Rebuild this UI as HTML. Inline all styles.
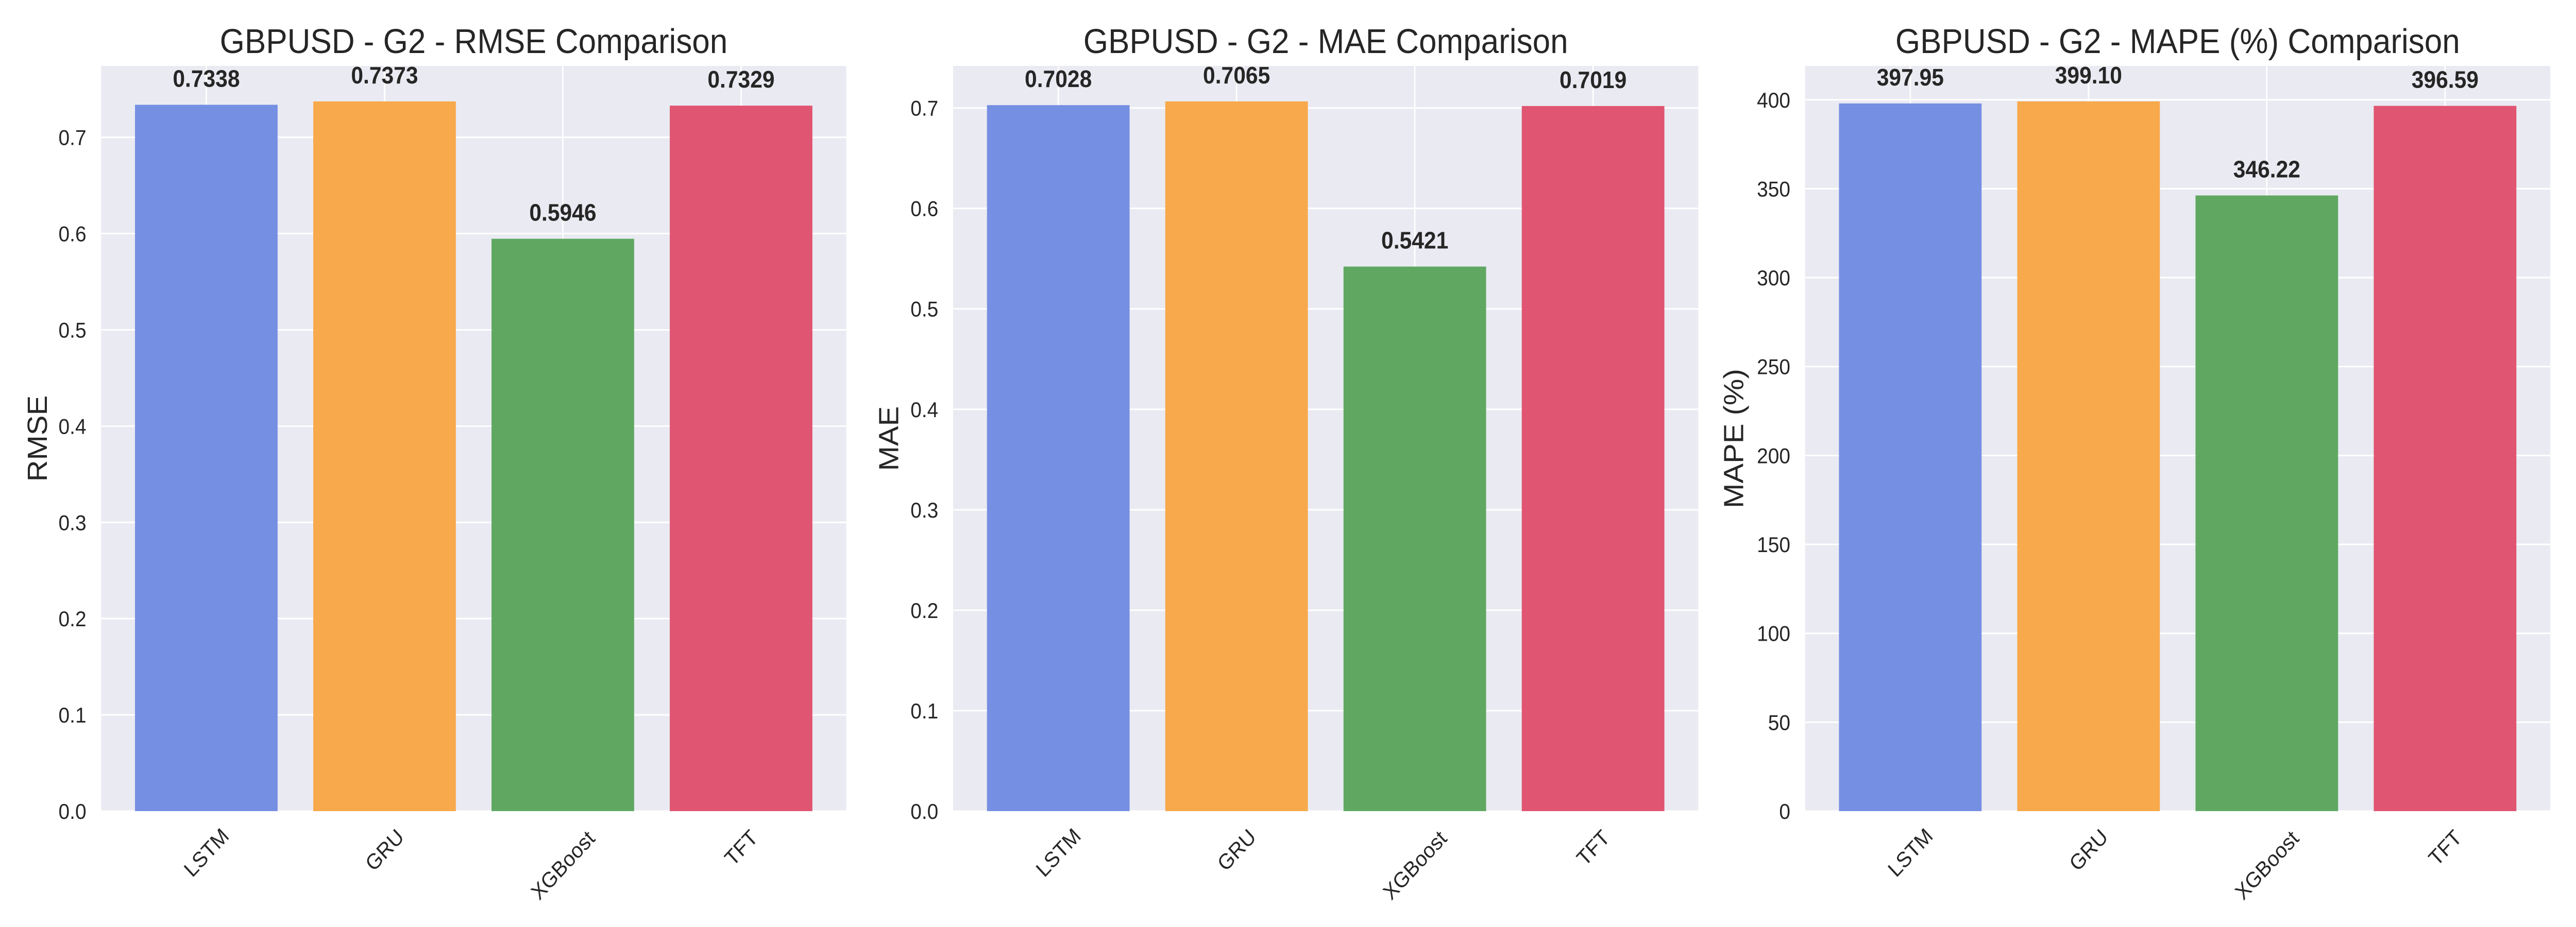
<!DOCTYPE html>
<html><head><meta charset="utf-8"><meta name="viewport" content="width=5400, initial-scale=1"><style>
html,body{margin:0;padding:0;background:#fff;overflow:hidden;width:100%;height:100%;}
svg{display:block;font-family:"Liberation Sans",Arial,sans-serif;width:100vw;height:100vh;}
</style></head><body>
<svg id="chart" xmlns="http://www.w3.org/2000/svg" viewBox="0 0 5400 1800" preserveAspectRatio="none"></svg>
<script>
const categories = ["LSTM", "GRU", "XGBoost", "TFT"];
const rmseValues = [0.7338, 0.7373, 0.5946, 0.7329];
const maeValues = [0.7028, 0.7065, 0.5421, 0.7019];
const mapeValues = [397.95, 399.10, 346.22, 396.59];
const rmseTicks = [0, 0.1, 0.2, 0.3, 0.4, 0.5, 0.6, 0.7];
const maeTicks = [0, 0.1, 0.2, 0.3, 0.4, 0.5, 0.6, 0.7];
const mapeTicks = [0, 50, 100, 150, 200, 250, 300, 350, 400];
const titles = ["GBPUSD - G2 - RMSE Comparison", "GBPUSD - G2 - MAE Comparison", "GBPUSD - G2 - MAPE (%) Comparison"];
const yLabels = ["RMSE", "MAE", "MAPE (%)"];

const colors = ["#758fe3", "#f7a94b", "#60a862", "#e05571"];
const NS = "http://www.w3.org/2000/svg";
const svg = document.getElementById("chart");
function mk(tag, attrs, parent) {
  const e = document.createElementNS(NS, tag);
  for (const k in attrs) e.setAttribute(k, attrs[k]);
  (parent || svg).appendChild(e);
  return e;
}
const panels = [
  {left: 212, vals: rmseValues, ticks: rmseTicks, fmt: v => v.toFixed(1), lab: v => v.toFixed(4), ylOff: 134, key: "rmse"},
  {left: 1998, vals: maeValues, ticks: maeTicks, fmt: v => v.toFixed(1), lab: v => v.toFixed(4), ylOff: 135, key: "mae"},
  {left: 3784, vals: mapeValues, ticks: mapeTicks, fmt: v => String(v), lab: v => v.toFixed(2), ylOff: 150, key: "mape"}
];
const W = 1562, TOP = 128, BOT = 1575;
const labelW = {"LSTM": 96, "GRU": 82, "XGBoost": 165, "TFT": 70};
panels.forEach((p, pi) => {
  const g = mk("g", {});
  
  
  const ymax = Math.max(...p.vals) * 1.05;
  const y = v => BOT - v / ymax * (BOT - TOP);
  const x = i => p.left + (i + 0.59) / 4.18 * W;
  const bw = 0.8 / 4.18 * W;
  const bg = mk("rect", {x: p.left, y: TOP, width: W, height: BOT - TOP, fill: "#eaeaf2"}, g);
  
  
  p.ticks.forEach(t => {
    const gl = mk("line", {x1: p.left, x2: p.left + W, y1: y(t), y2: y(t), stroke: "#fff", "stroke-width": 3}, g);
    
    
    const tl = mk("text", {x: p.left - 31, y: y(t) + 15, "text-anchor": "end", "font-size": 42, fill: "#262626"}, g);
    tl.textContent = p.fmt(t);
    
    
  });
  categories.forEach((c, i) => {
    const vl = mk("line", {x1: x(i), x2: x(i), y1: TOP, y2: BOT, stroke: "#fff", "stroke-width": 3}, g);
    
    
  });
  categories.forEach((c, i) => {
    const v = p.vals[i];
    const b = mk("rect", {x: x(i) - bw / 2, y: y(v), width: bw, height: BOT - y(v), fill: colors[i]}, g);
    
    
    const t = mk("text", {x: x(i), y: y(v) - 35, "text-anchor": "middle", "font-size": 46, "font-weight": "bold", fill: "#262626"}, g);
    t.textContent = p.lab(v);
    
    
    const w = labelW[c] || 100;
    const H = (w + 38) * 0.7071;
    const cy = 1608 + H / 2;
    const xt = mk("text", {x: x(i), y: cy, "text-anchor": "middle", "dominant-baseline": "central", "font-size": 42, fill: "#262626", transform: "rotate(-45 " + x(i) + " " + cy + ")"}, g);
    xt.textContent = c;
    
    
  });
  const ti = mk("text", {x: p.left + W / 2, y: 103, "text-anchor": "middle", "font-size": 67, fill: "#262626"}, g);
  ti.textContent = titles[pi];
  
  
  const yc = (TOP + BOT) / 2, xc = p.left - p.ylOff;
  const yl = mk("text", {x: xc, y: yc, "text-anchor": "middle", "dominant-baseline": "central", "font-size": 58, fill: "#262626", transform: "rotate(-90 " + xc + " " + yc + ")"}, g);
  yl.textContent = yLabels[pi];
  
  
});
</script>
</body></html>
